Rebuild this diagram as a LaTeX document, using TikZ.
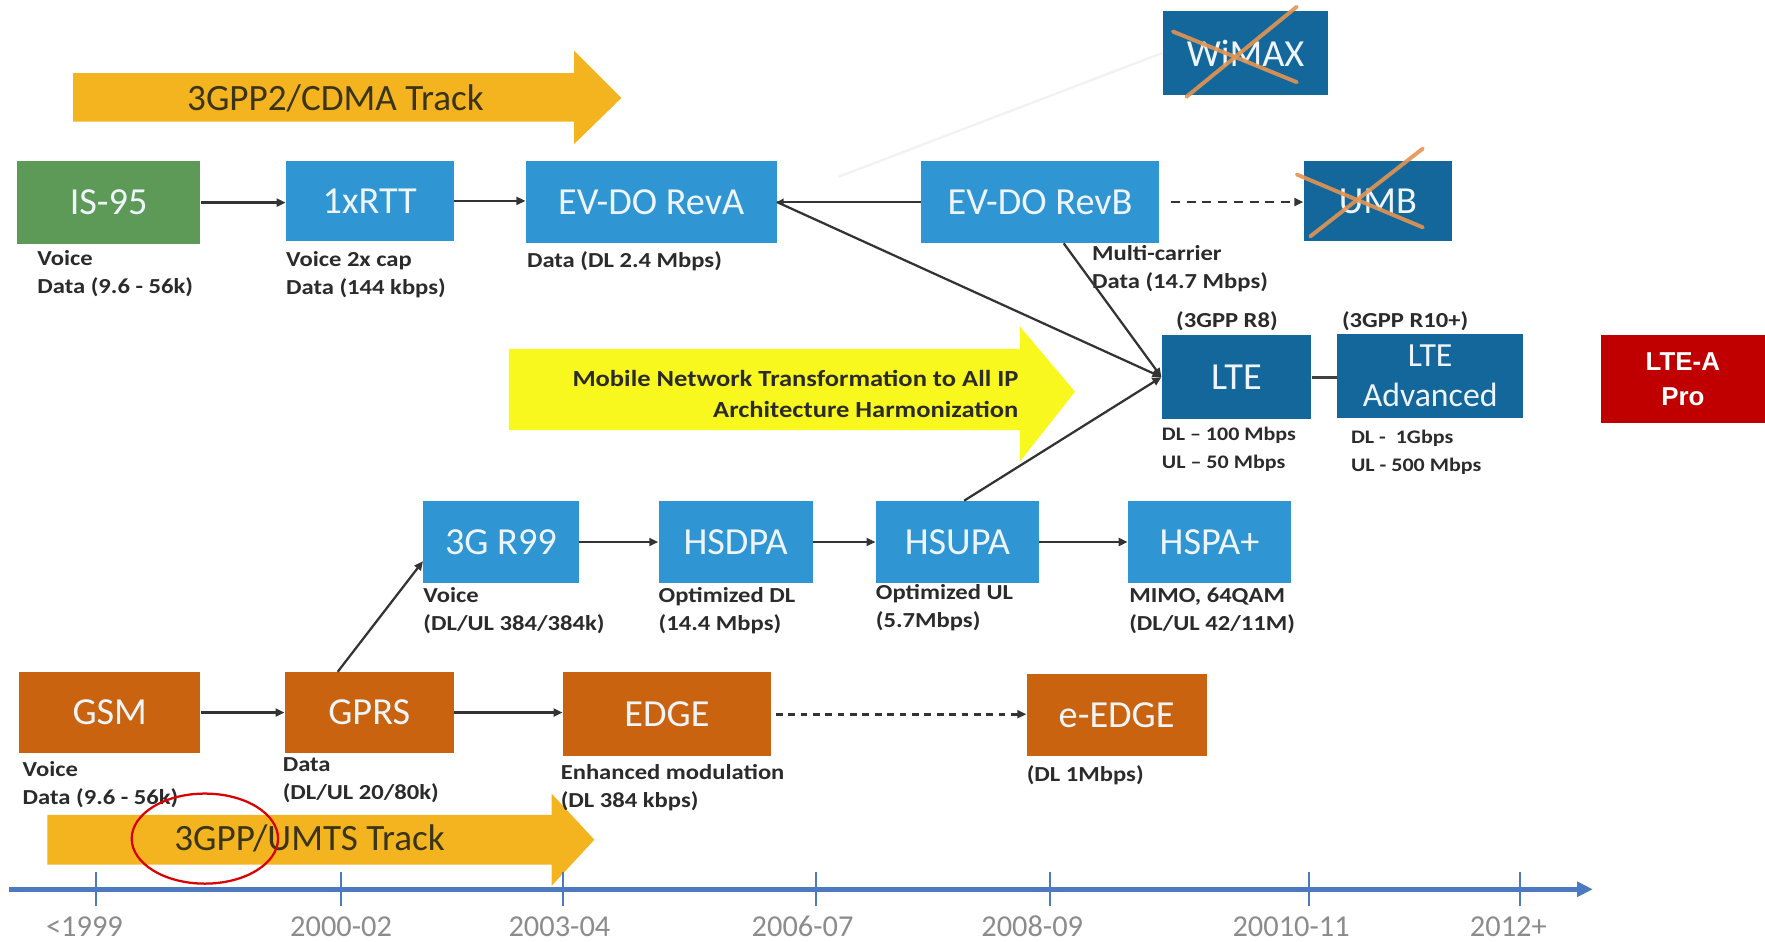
\documentclass[tikz,border=0pt]{standalone}
\usepackage{fontspec}
\setmainfont{Carlito}
\newfontfamily\lblfont[FakeStretch=1.15]{Carlito}
\newfontfamily\arialfont{Liberation Sans}
\usetikzlibrary{arrows.meta,calc}
\definecolor{cgreen}{HTML}{5E9A57}
\definecolor{cblue}{HTML}{2F95D3}
\definecolor{cdark}{HTML}{14679B}
\definecolor{corange}{HTML}{C9630F}
\definecolor{cgold}{HTML}{F4B420}
\definecolor{cyell}{HTML}{F8F81E}
\definecolor{cred}{HTML}{C00000}
\definecolor{ctime}{HTML}{4C79BF}
\definecolor{cx}{HTML}{E49550}
\definecolor{ctext}{HTML}{2B2B2B}
\definecolor{ctrack}{HTML}{3A3418}
\definecolor{cwhite}{HTML}{EEF5FA}
\begin{document}
\begin{tikzpicture}[x=1pt,y=-1pt,
  box/.style={rectangle, inner sep=0pt, text=cwhite, align=center,
    font=\fontsize{34}{38}\selectfont},
  lbl/.style={anchor=north west, inner sep=0pt, align=left, text=ctext,
    font=\lblfont\bfseries\fontsize{19}{25}\selectfont},
  smlbl/.style={lbl, font=\lblfont\bfseries\fontsize{17}{25}\selectfont},
  tip/.style={-{Triangle[length=8pt,width=7pt]}},
  conn/.style={draw=black!80, line width=2.5pt, tip},
  diag/.style={draw=black!80, line width=2pt, tip},
  dconn/.style={conn, dash pattern=on 8pt off 6pt},
  crossline/.style={draw=cx, line width=3.5pt, line cap=round, opacity=0.9},
  track/.style={inner sep=0pt, text=ctrack, font=\fontsize{33}{36}\selectfont},
  year/.style={inner sep=0pt, text=black!45, font=\fontsize{27}{30}\selectfont},
  tick/.style={draw=ctime, line width=2pt}
]
\useasboundingbox (0,0) rectangle (1568,836);
\fill[white] (0,0) rectangle (1568,836);

% ---------- track arrows ----------
\fill[cgold] (65,65) -- (510,65) -- (510,45) -- (552,87) -- (510,128) -- (510,108) -- (65,108) -- cycle;
\node[track] (cdma) at (298,87) {3GPP2/CDMA Track};

\fill[cyell] (452,310) -- (906,310) -- (906,290) -- (955,348) -- (906,410) -- (906,382) -- (452,382) -- cycle;
\node[anchor=east, inner sep=0pt, align=right, text=ctext,
  font=\lblfont\bfseries\fontsize{20.5}{28}\selectfont] (mobile) at (905,350)
  {Mobile Network Transformation to All IP\\Architecture Harmonization};

\fill[cgold] (42,724) -- (490,724) -- (490,705) -- (528,746) -- (490,787) -- (490,768) -- (42,768) -- cycle;
\node[track] (umts) at (275,745) {3GPP/UMTS Track};

% ---------- faint line to WiMAX ----------
\coordinate (fa) at (745,157);

% ---------- boxes ----------
\node[box, fill=cgreen, minimum width=163pt, minimum height=74pt] (is95) at (96.5,180) {IS-95};
\node[box, fill=cblue, minimum width=149pt, minimum height=71pt] (rtt) at (328.5,178.5) {1xRTT};
\node[box, fill=cblue, minimum width=223pt, minimum height=73pt] (revA) at (578.5,179.5) {EV-DO RevA};
\node[box, fill=cblue, minimum width=212pt, minimum height=73pt] (revB) at (924,179.5) {EV-DO RevB};
\node[box, fill=cdark, minimum width=132pt, minimum height=71pt] (umb) at (1224,178.5) {UMB};
\node[box, fill=cdark, minimum width=147pt, minimum height=74pt] (wimax) at (1106.5,47) {WiMAX};
\node[box, fill=cdark, minimum width=133pt, minimum height=74pt] (lte) at (1098.5,335) {LTE};
\node[box, fill=cdark, minimum width=165pt, minimum height=74pt,
  font=\fontsize{30}{36}\selectfont] (ltea) at (1270.5,334) {LTE\\Advanced};
\node[box, fill=cred, minimum width=146pt, minimum height=78pt, text=white,
  font=\arialfont\bfseries\fontsize{23}{31}\selectfont] (ltepro) at (1495,337) {LTE-A\\Pro};

\node[box, fill=cblue, minimum width=138pt, minimum height=73pt] (r99) at (445,481.5) {3G R99};
\node[box, fill=cblue, minimum width=137pt, minimum height=73pt] (hsdpa) at (653.5,481.5) {HSDPA};
\node[box, fill=cblue, minimum width=145pt, minimum height=73pt] (hsupa) at (850.5,481.5) {HSUPA};
\node[box, fill=cblue, minimum width=145pt, minimum height=73pt] (hspap) at (1074.5,481.5) {HSPA+};

\node[box, fill=corange, minimum width=161pt, minimum height=72pt] (gsm) at (97.5,633) {GSM};
\node[box, fill=corange, minimum width=150pt, minimum height=72pt] (gprs) at (328,633) {GPRS};
\node[box, fill=corange, minimum width=185pt, minimum height=75pt] (edge) at (592.5,634.5) {EDGE};
\node[box, fill=corange, minimum width=160pt, minimum height=73pt] (eedge) at (992,635.5) {e-EDGE};

% ---------- crosses ----------
\draw[crossline] (1042,28) -- (1152,73);
\draw[crossline] (1054,86) -- (1152,6);
\draw[crossline] (1152,155) -- (1264,202);
\draw[crossline] (1164,210) -- (1264,132);

% ---------- labels ----------
\node[lbl] (l-is95) at (33,222) {Voice\\Data (9.6 - 56k)};
\node[lbl] (l-rtt) at (254,223) {Voice 2x cap\\Data (144 kbps)};
\node[lbl] (l-revA) at (468,223) {Data (DL 2.4 Mbps)};
\node[lbl] (l-revB) at (970,218) {Multi-carrier\\Data (14.7 Mbps)};
\node[lbl, anchor=center] (a-lte) at (1090,285) {(3GPP R8)};
\node[lbl, anchor=west] (a-ltea) at (1192,285) {(3GPP R10+)};
\node[smlbl] (l-lte) at (1032,379) {DL – 100 Mbps\\UL – 50 Mbps};
\node[smlbl] (l-ltea) at (1200,382) {DL -\ \ 1Gbps\\UL - 500 Mbps};
\node[lbl] (l-r99) at (376,522) {Voice\\(DL/UL 384/384k)};
\node[lbl] (l-hsdpa) at (585,522) {Optimized DL\\(14.4 Mbps)};
\node[lbl] (l-hsupa) at (778,519) {Optimized UL\\(5.7Mbps)};
\node[lbl] (l-hspap) at (1003,522) {MIMO, 64QAM\\(DL/UL 42/11M)};
\node[lbl] (l-gsm) at (20,676) {Voice\\Data (9.6 - 56k)};
\node[lbl] (l-gprs) at (251,673) {Data\\(DL/UL 20/80k)};
\node[lbl] (l-edge) at (498,679) {Enhanced modulation\\(DL 384 kbps)};
\node[lbl] (l-eedge) at (912,680) {(DL 1Mbps)};

% ---------- connectors ----------
\draw[black!5, line width=2pt] (fa) -- (wimax.west);
\draw[conn] (is95.east) -- (is95.east -| rtt.west);
\draw[conn] (rtt.east) -- (rtt.east -| revA.west);
\draw[conn, -{Triangle[length=6pt,width=6pt]}] (revB.west) -- (revB.west -| revA.east);
\draw[diag] (revA.east) -- (lte.west);
\draw[diag] ([xshift=21pt]revB.south) -- (lte.west);
\draw[diag] ([xshift=6pt]hsupa.north) -- (lte.west);
\draw[draw=black!75, line width=2.5pt] (lte.east) -- (lte.east -| ltea.west);
\draw[dconn, shorten <=10pt] (revB.east) -- (revB.east -| umb.west);
\draw[conn] (r99.east) -- (r99.east -| hsdpa.west);
\draw[conn] (hsdpa.east) -- (hsdpa.east -| hsupa.west);
\draw[conn] (hsupa.east) -- (hsupa.east -| hspap.west);
\draw[conn] (gsm.east) -- (gsm.east -| gprs.west);
\draw[conn] (gprs.east) -- (gprs.east -| edge.west);
\draw[conn, dash pattern=on 6pt off 5pt, shorten <=4pt] (edge.east) -- (edge.east -| eedge.west);
\draw[diag] ([xshift=-28pt]gprs.north) -- ([yshift=-17pt]r99.west);

% ---------- red ellipse ----------
\draw[red!85!black, line width=2pt] (182,745) ellipse [x radius=65, y radius=40];

% ---------- timeline ----------
\coordinate (tl0) at (8,790);
\coordinate (tl1) at (1415,790);
\draw[ctime, line width=4pt, -{Triangle[length=14pt,width=13pt]}] (tl0) -- (tl1);
\foreach \x/\t/\lx [count=\i] in {85/{<1999}/75, 303/2000-02/303, 500/2003-04/497, 725/2006-07/713, 933/2008-09/917, 1163/20010-11/1147, 1350/2012+/1340}{
  \draw[tick] (\x,775) -- (\x,805);
  \node[year] (yr\i) at (\lx,823) {\t};
}
\end{tikzpicture}
\end{document}
